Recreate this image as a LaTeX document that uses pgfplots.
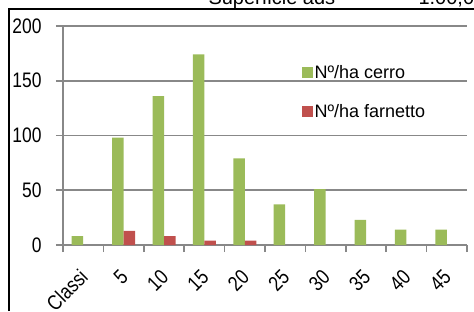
\documentclass[border=0pt]{standalone}
\usepackage{fontspec}
\setmainfont{Liberation Sans}
\newfontfamily\tickfont[FakeStretch=0.83]{Liberation Sans}
\usepackage{pgfplots}
\pgfplotsset{compat=1.18}
\definecolor{cerro}{HTML}{9BBB59}
\definecolor{farn}{HTML}{C0504D}
\definecolor{axgray}{HTML}{888888}
\pgfplotsset{sqleg/.style={legend image code/.code={\fill[##1] (0pt,-5.5pt) rectangle (11pt,5.5pt);}}}
\begin{document}
\begin{tikzpicture}[x=1pt,y=1pt]
\begin{axis}[
  at={(63pt,66pt)}, anchor=south west,
  scale only axis, width=404pt, height=219pt,
  xmin=-0.5, xmax=9.5, ymin=0, ymax=200,
  ybar=0pt, bar width=11.5pt,
  axis x line*=bottom, axis y line*=left,
  axis line style={draw=axgray, line width=1.6pt, -},
  ytick={0,50,...,200},
  ymajorgrids, grid style={draw=axgray, line width=1.6pt},
  tick align=outside, major tick length=7pt, minor tick length=7pt,
  tick style={draw=axgray, line width=1.6pt},
  xtick={0,...,9},
  xticklabels={Classi,5,10,15,20,25,30,35,40,45},
  major x tick style={draw=none},
  minor xtick={-0.5,0.5,...,9.5},
  /pgf/number format/assume math mode=true,
  yticklabel style={font=\tickfont\fontsize{21}{21}\selectfont, xshift=-11pt},
  xticklabel style={font=\tickfont\fontsize{21}{21}\selectfont, xshift=3pt, yshift=-19pt, rotate=45, anchor=east},
  legend style={at={(rel axis cs:0.59,0.83)}, anchor=north west, draw=none, fill=none,
    font=\fontsize{18}{18}\selectfont, row sep=20pt, inner sep=0pt,
    /tikz/every even column/.append style={column sep=4pt}},
  legend cell align=left,
]
\addplot[fill=cerro, draw=none, sqleg]
  coordinates {(0,8) (1,98) (2,136) (3,174) (4,79) (5,37) (6,51) (7,23) (8,14) (9,14)};
\addlegendentry{Nº/ha cerro}
\addplot[fill=farn, draw=none, sqleg]
  coordinates {(1,13) (2,8) (3,4) (4,4)};
\addlegendentry{Nº/ha farnetto}
\end{axis}
\node[anchor=base west, font=\fontsize{20}{20}\selectfont] at (205,306) {Superficie ads};
\node[anchor=base west, font=\fontsize{20}{20}\selectfont] at (415,306) {1.00,00};
\draw[line width=2.3pt] (9,0) -- (9,302) -- (474,302);
\pgfresetboundingbox
\useasboundingbox (0,0) rectangle (474,311);
\end{tikzpicture}
\end{document}
